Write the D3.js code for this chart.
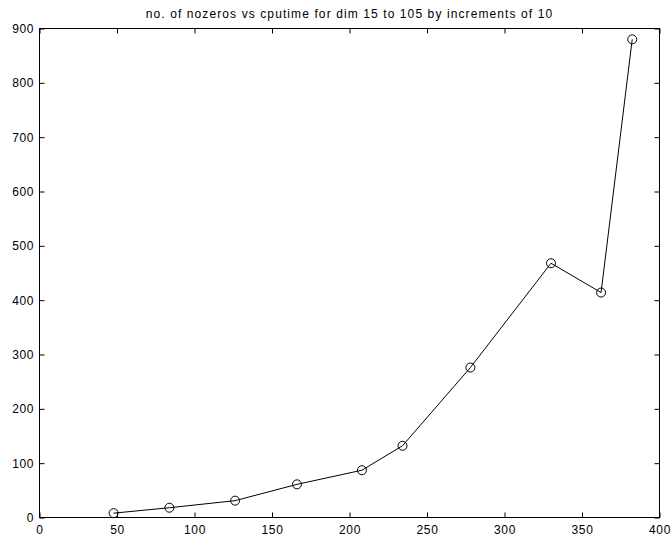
<!DOCTYPE html>
<html>
<head>
<meta charset="utf-8">
<script src="https://cdn.jsdelivr.net/npm/d3@7"></script>
<style>
  html, body { margin: 0; padding: 0; background: #fff; }
  svg { display: block; font-family: "Liberation Sans", Arial, Helvetica, sans-serif; }
</style>
</head>
<body>
<svg id="chart" width="672" height="539"></svg>
<script>
const titleText = "no. of nozeros vs cputime for dim 15 to 105 by increments of 10";
const xValues = [47.8, 83.8, 126.2, 166.1, 208.0, 234.2, 278.0, 330.0, 362.3, 382.4];
const yValues = [8, 18, 31, 61, 87, 132, 276, 468, 414, 880];
const xTicks = [0, 50, 100, 150, 200, 250, 300, 350, 400];
const yTicks = [0, 100, 200, 300, 400, 500, 600, 700, 800, 900];

const margin = { left: 39.5, top: 28.5, right: 672 - 659.5, bottom: 539 - 517.5 };
const W = 672, H = 539;
const svg = d3.select("#chart");

const x = d3.scaleLinear().domain([0, 400]).range([margin.left, W - margin.right]);
const y = d3.scaleLinear().domain([0, 900]).range([H - margin.bottom, margin.top]);

const tickLen = 5;
const fontSize = 12;

// Box
svg.append("rect")
  .attr("x", x(0)).attr("y", y(900))
  .attr("width", x(400) - x(0)).attr("height", y(0) - y(900))
  .attr("fill", "none").attr("stroke", "#000").attr("stroke-width", 1);

// Bottom axis
const xb = svg.append("g").attr("transform", `translate(0,${y(0)})`)
  .call(d3.axisBottom(x).tickValues(xTicks).tickSize(-tickLen).tickPadding(8).tickFormat(d3.format("d")));
// Top axis ticks
const xt = svg.append("g").attr("transform", `translate(0,${y(900)})`)
  .call(d3.axisTop(x).tickValues(xTicks).tickSize(-tickLen).tickFormat(""));
// Left axis
const yl = svg.append("g").attr("transform", `translate(${x(0)},0)`)
  .call(d3.axisLeft(y).tickValues(yTicks).tickSize(-tickLen).tickPadding(5.5).tickFormat(d3.format("d")));
// Right axis ticks
const yr = svg.append("g").attr("transform", `translate(${x(400)},0)`)
  .call(d3.axisRight(y).tickValues(yTicks).tickSize(-tickLen).tickFormat(""));

[xb, xt, yl, yr].forEach(g => {
  g.select(".domain").remove();
  g.selectAll("line").attr("stroke", "#000");
  g.selectAll("text").attr("fill", "#000").style("font-size", fontSize + "px")
    .style("letter-spacing", "0.6px")
    .style("font-family", '"Liberation Sans", Arial, Helvetica, sans-serif');
});
xb.selectAll("text").attr("dy", "0.71em");

// Line
const data = xValues.map((v, i) => ({ x: v, y: yValues[i] }));
svg.append("path")
  .datum(data)
  .attr("fill", "none").attr("stroke", "#000").attr("stroke-width", 1)
  .attr("d", d3.line().x(d => x(d.x)).y(d => y(d.y)));

// Markers
svg.append("g").selectAll("circle").data(data).join("circle")
  .attr("cx", d => x(d.x)).attr("cy", d => y(d.y)).attr("r", 4.5)
  .attr("fill", "none").attr("stroke", "#000").attr("stroke-width", 1);

// Title
svg.append("text")
  .attr("x", (x(0) + x(400)) / 2).attr("y", 18)
  .attr("text-anchor", "middle")
  .style("font-size", fontSize + "px")
  .style("letter-spacing", "1.1px")
  .attr("fill", "#000")
  .text(titleText);
</script>
</body>
</html>
